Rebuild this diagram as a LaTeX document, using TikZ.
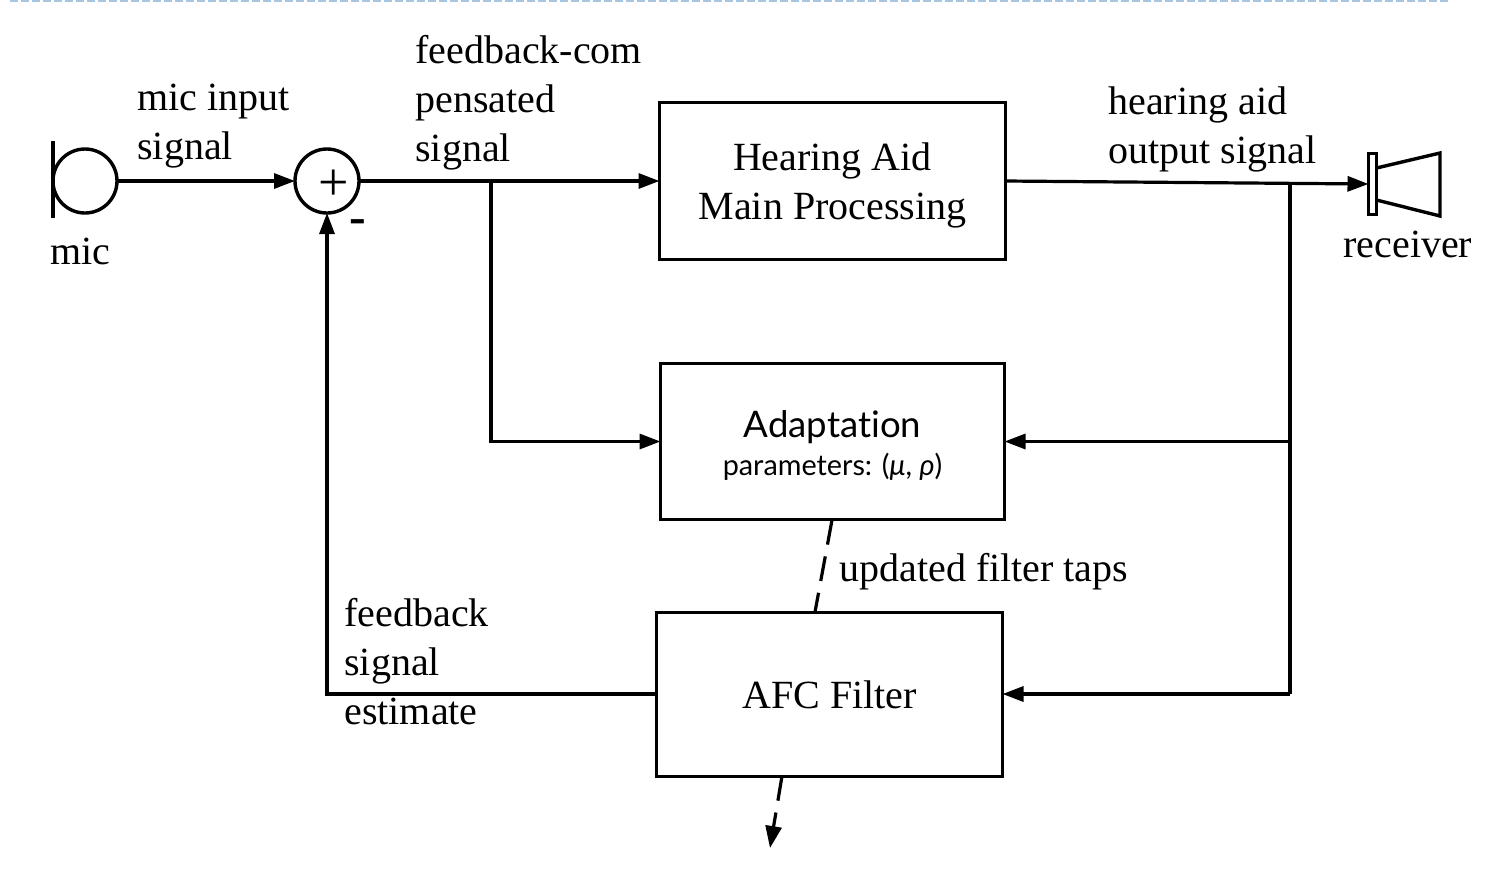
\documentclass[tikz,border=0pt]{standalone}
\usepackage{fontspec}
\setmainfont{Liberation Serif}
\newfontfamily\gillfont[Ligatures=NoCommon]{Lato}
\usetikzlibrary{arrows.meta}
\definecolor{rulecol}{HTML}{A9C6E0}
\tikzset{
	procbox/.style={draw, line width=1.9pt, inner sep=0pt, outer sep=0pt, font=\fontsize{20}{24.5}\selectfont, align=center},
	siglabel/.style={anchor=north west, inner sep=0pt, align=left, font=\fontsize{20}{24.5}\selectfont},
	sigline/.style={line width=1.6pt},
	sigarrow/.style={line width=1.6pt, -{Triangle[length=10.5pt,width=7.5pt]}},
	tapline/.style={line width=1.6pt, dash pattern=on 12.5pt off 6pt},
	sumcircle/.style={draw, circle, line width=1.7pt, minimum size=32pt, inner sep=0pt, outer sep=0pt}
}
\begin{document}
\begin{tikzpicture}[x=0.5pt,y=-0.5pt]
	\useasboundingbox (0,0) rectangle (1508,890);
	% dotted rule along the top edge
	\draw[line width=1pt, color=rulecol, dash pattern=on 4pt off 1.5pt] (10,0.5)--(1450,0.5);
	% blocks
	\node[procbox, minimum width=173pt, minimum height=78.5pt] (main) at (832.5,181) {\rule{0pt}{18.5pt}Hearing Aid\\Main Processing};
	\node[procbox, minimum width=172pt, minimum height=78pt] (adapt) at (832.5,441.5) {\rule{0pt}{17.5pt}{\gillfont\fontsize{18.3}{22}\selectfont Adaptation}\\[-5.5pt]{\gillfont\fontsize{14.4}{16}\selectfont parameters: (\itshape μ\upshape, \itshape ρ\upshape)}};
	\node[procbox, line width=1.5pt, minimum width=173pt, minimum height=82pt] (afc) at (829.5,694) {\rule{0pt}{14.5pt}AFC Filter};
	% microphone
	\node[sumcircle] (mic) at (85,181) {};
	\coordinate (mictop) at (53,141);
	\coordinate (micbot) at (53,218);
	\draw[sigline] (mictop)--(micbot);
	% summing point
	\node[sumcircle] (sum) at (327,181) {};
	\node[inner sep=0pt] (plus) at (334,185) {\fontsize{27}{27}\selectfont +};
	\node[inner sep=0pt] (minus) at (358,227) {\fontsize{25}{25}\selectfont\bfseries -};
	% receiver
	\node[draw, line width=1.7pt, minimum width=4pt, minimum height=30.5pt, inner sep=0pt, outer sep=0pt] (recv) at (1372.5,184) {};
	\draw[line width=1.7pt] (recv.east|-1378,168)--(1440,153)--(1440,216)--(recv.east|-1378,200);
	% branch points
	\coordinate (compjoin) at (491,181);
	\coordinate (outjoin) at (1290,183.5);
	\coordinate (outstart) at (main.east);
	\coordinate (tapA) at (832,520);
	\coordinate (tapB) at (815,612);
	\coordinate (tapC) at (782,776);
	\coordinate (tapD) at (770,848);
	% signal paths
	\draw[sigarrow] (mic)--(sum);
	\draw[sigarrow] (sum)--(main);
	\draw[sigarrow] (compjoin)|-(adapt);
	\draw[sigarrow] (outstart)--(recv.west);
	\draw[sigline] (outjoin)--(1290,694);
	\draw[sigarrow] (1290,441.5)--(adapt);
	\draw[sigarrow] (1290,694)--(afc);
	\draw[sigarrow] (afc)-|(sum);
	\draw[tapline] (tapA)--(tapB);
	\draw[tapline, -{Triangle[length=11pt,width=8pt]}] (tapC)--(tapD);
	% labels
	\node[siglabel] (lmicin) at (137,84) {mic input\\signal};
	\node[siglabel] (lmic) at (50,238) {mic};
	\node[siglabel] (lcomp) at (415,35) {feedback-com\\pensated\\signal};
	\node[siglabel] (lout) at (1108,86) {hearing aid\\output signal};
	\node[siglabel] (lrecv) at (1343,231) {receiver};
	\node[siglabel] (ltaps) at (839,553) {updated filter taps};
	\node[siglabel] (lest) at (344,598) {feedback\\signal\\estimate};
\end{tikzpicture}
\end{document}
